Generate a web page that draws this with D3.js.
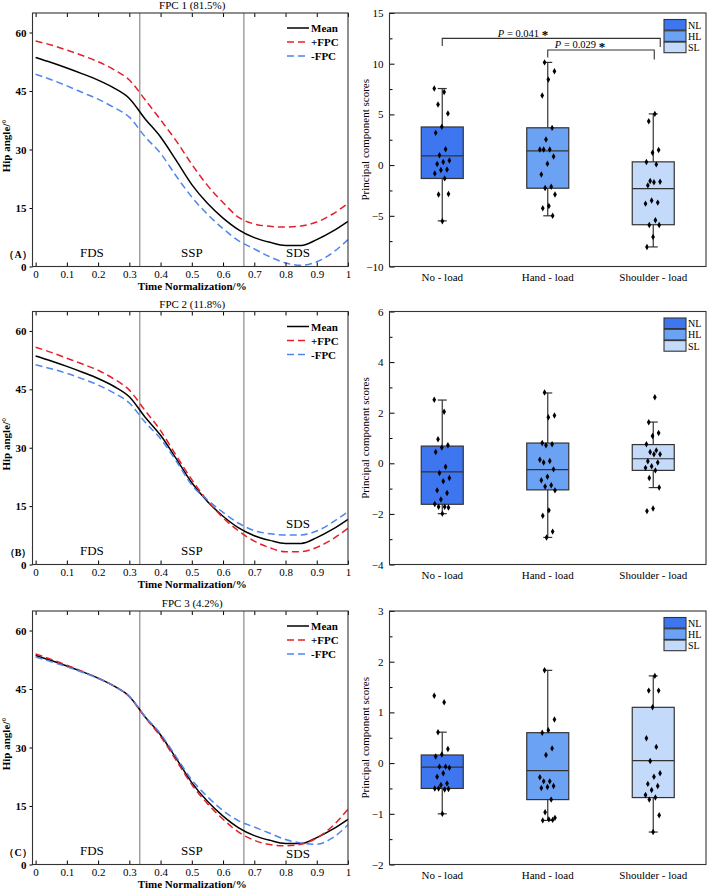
<!DOCTYPE html>
<html>
<head>
<meta charset="utf-8">
<script src="https://cdn.jsdelivr.net/npm/d3@7"></script>
<style>
body { margin: 0; background: #fff; }
svg { display: block; font-family: "Liberation Serif", "Times New Roman", serif; }
</style>
</head>
<body>
<div id="chart"></div>
<script>
// ---- data ----

// normalised time, shared by every curve
const timeNorm = [0, 0.05, 0.1, 0.15, 0.2, 0.25, 0.3, 0.35, 0.4, 0.45, 0.5,
                  0.55, 0.6, 0.65, 0.7, 0.75, 0.8, 0.85, 0.9, 0.95, 1];
const timeTicks = [0, 0.1, 0.2, 0.3, 0.4, 0.5, 0.6, 0.7, 0.8, 0.9, 1];
const angleTicks = [0, 15, 30, 45, 60];

const meanCurve = [53.6, 52.3, 50.9, 49.4, 47.8, 45.8, 43.1, 37.9, 33.2, 27.2, 21.0,
                   16.2, 12.4, 9.4, 7.4, 6.2, 5.4, 5.4, 6.9, 9.0, 11.6];

const fpc1Plus  = [57.8, 56.8, 55.5, 54.1, 52.5, 50.5, 47.8, 42.8, 37.6, 32.2, 26.2,
                   20.8, 16.4, 12.6, 10.9, 10.3, 10.1, 10.4, 11.4, 13.4, 16.2];
const fpc1Minus = [49.3, 47.9, 46.3, 44.6, 42.9, 40.8, 38.3, 33.3, 29.0, 23.2, 17.8,
                   13.4, 9.7, 6.6, 4.5, 2.5, 0.9, 0.3, 1.2, 3.5, 6.9];

const fpc2Plus  = [55.8, 54.5, 53.0, 51.5, 49.9, 47.7, 44.8, 39.6, 34.4, 28.0, 21.8,
                   16.4, 12.0, 8.6, 6.0, 4.3, 3.3, 3.3, 4.4, 6.5, 9.3];
const fpc2Minus = [51.3, 50.3, 49.1, 47.7, 46.1, 44.1, 41.5, 36.6, 32.3, 26.6, 20.4,
                   16.6, 13.4, 10.6, 8.7, 7.9, 7.6, 7.6, 8.6, 10.8, 13.6];

const fpc3Plus  = [54.0, 52.6, 51.1, 49.5, 47.8, 45.8, 43.0, 37.8, 32.8, 26.7, 20.5,
                   15.6, 11.6, 8.3, 6.2, 5.1, 4.8, 5.2, 6.8, 9.8, 14.2];
const fpc3Minus = [53.2, 52.0, 50.7, 49.3, 47.7, 45.8, 43.1, 38.0, 33.5, 27.6, 21.7,
                   17.4, 13.8, 11.2, 9.6, 8.0, 6.4, 5.5, 5.2, 6.8, 10.2];

const fpcTitles = ["FPC 1 (81.5%)", "FPC 2 (11.8%)", "FPC 3 (4.2%)"];
const panelTags = ["（A）", "（B）", "（C）"];
const phaseNames = ["FDS", "SSP", "SDS"];
const phaseBounds = [1 / 3, 2 / 3];
const curveNames = ["Mean", "+FPC", "-FPC"];

const groups = ["No - load", "Hand - load", "Shoulder - load"];
const groupKeys = ["NL", "HL", "SL"];

// box statistics per group: [lower whisker, Q1, median, Q3, upper whisker]
const boxStats1 = [[-5.5, -1.32, 0.9, 3.76, 7.55],
                   [-5.0, -2.28, 1.4, 3.68, 10.13],
                   [-8.07, -5.88, -2.32, 0.32, 5.05]];
const boxStats2 = [[-1.99, -1.62, -0.34, 0.68, 2.5],
                   [-2.93, -1.05, -0.25, 0.8, 2.78],
                   [-0.96, -0.28, 0.18, 0.74, 1.63]];
const boxStats3 = [[-1.0, -0.5, -0.08, 0.16, 0.61],
                   [-1.13, -0.72, -0.15, 0.6, 1.83],
                   [-1.36, -0.68, 0.05, 1.1, 1.72]];

// individual principal component scores
const scores1 = [[7.55, 7.2, 5.97, 5.08, 3.77, 3.18, 1.57, 0.98, 0.46, 0.3, 0.1, -0.43, -0.49, -0.82, -1.31, -2.89, -2.85, -5.54],
                 [10.13, 9.25, 8.43, 6.86, 3.67, 2.52, 1.54, 1.54, 1.54, 0.85, 0.13, -0.92, -2.13, -2.26, -2.89, -4.03, -4.26, -5.0],
                 [5.05, 4.33, 1.48, 1.21, 0.3, 0.07, -1.57, -1.64, -1.7, -2.0, -3.7, -3.5, -3.8, -5.44, -5.9, -5.9, -7.08, -8.07]];
const scores2 = [[2.51, 2.04, 0.95, 0.71, 0.62, 0.45, -0.14, -0.38, -0.58, -0.71, -1.07, -1.17, -1.43, -1.61, -1.72, -1.72, -1.75, -1.99],
                 [2.8, 1.89, 1.82, 0.8, 0.75, 0.71, 0.14, 0.09, 0.03, -0.24, -0.53, -0.67, -0.87, -0.92, -1.07, -1.86, -2.07, -2.7, -2.93],
                 [2.61, 1.62, 1.2, 1.08, 0.75, 0.51, 0.45, 0.36, 0.36, 0.08, 0.03, -0.12, -0.18, -0.28, -0.58, -0.96, -1.79, -1.89]];
const scores3 = [[1.33, 1.2, 0.61, 0.28, 0.17, 0.13, -0.07, -0.07, -0.09, -0.2, -0.27, -0.4, -0.43, -0.5, -0.52, -0.5, -0.51, -1.0],
                 [1.83, 0.86, 0.65, 0.6, 0.29, 0.16, -0.28, -0.36, -0.36, -0.45, -0.47, -0.49, -0.72, -0.97, -1.08, -1.11, -1.13, -1.12],
                 [1.72, 1.43, 1.43, 1.1, 0.49, 0.32, 0.04, -0.2, -0.27, -0.41, -0.45, -0.53, -0.63, -0.68, -0.72, -1.03, -1.36]];

const scoreDomains = [[-10, 15], [-4, 6], [-2, 3]];
const scoreTicks = [[-10, -5, 0, 5, 10, 15], [-4, -2, 0, 2, 4, 6], [-2, -1, 0, 1, 2, 3]];
const scoreMinor = [[-7.5, -2.5, 2.5, 7.5, 12.5], [-3, -1, 1, 3, 5], [-1.5, -0.5, 0.5, 1.5, 2.5]];

// significance (FPC 1 only)
const sigPairs = [{from: 0, to: 2, p: "0.041", level: 12.5, foot: 11.75},
                  {from: 1, to: 2, p: "0.029", level: 11.35, foot: 10.62}];

// ---- layout ----
const W = 708, H = 889;
const rows = [{top: 13, bottom: 266.5}, {top: 311.5, bottom: 564.5}, {top: 611, bottom: 864.5}];
const leftX = [32.5, 348];
const rightX = [389.5, 706];
const frameColor = "#333";
const boxFill = ["#3e76f0", "#6ca2f4", "#c4dafa"];
const curveColor = ["#000", "#e3202a", "#4f86ee"];
// where the SDS label sits in each panel (angle units)
const sdsLevel = [2.4, 9.4, 1.6];
const sigText = [{x: 523, y: 36.5}, {x: 580, y: 48}];

const panels = [
  {plus: fpc1Plus, minus: fpc1Minus, stats: boxStats1, scores: scores1},
  {plus: fpc2Plus, minus: fpc2Minus, stats: boxStats2, scores: scores2},
  {plus: fpc3Plus, minus: fpc3Minus, stats: boxStats3, scores: scores3}
];

const svg = d3.select("#chart").append("svg")
  .attr("width", W).attr("height", H);

panels.forEach((p, i) => {
  drawCurves(svg.append("g"), p, i, rows[i]);
  drawBoxes(svg.append("g"), p, i, rows[i]);
});

function drawCurves(g, p, i, r) {
  const x = d3.scaleLinear().domain([-0.01, 1]).range(leftX);
  const y = d3.scaleLinear().domain([0, 65]).range([r.bottom, r.top]);

  g.append("text")
    .attr("x", (leftX[0] + leftX[1]) / 2 + 2).attr("y", r.top - 4)
    .attr("text-anchor", "middle").attr("font-size", 11)
    .text(fpcTitles[i]);

  // phase boundaries
  g.selectAll(".phase").data(phaseBounds).enter().append("line")
    .attr("x1", d => x(d)).attr("x2", d => x(d))
    .attr("y1", r.top).attr("y2", r.bottom)
    .attr("stroke", "#9a9a9a").attr("stroke-width", 1.4);

  const line = d3.line()
    .x((d, k) => x(timeNorm[k]))
    .y(d => y(d))
    .curve(d3.curveMonotoneX);

  const series = [meanCurve, p.plus, p.minus];
  series.forEach((s, k) => {
    g.append("path").datum(s)
      .attr("d", line).attr("fill", "none")
      .attr("stroke", curveColor[k]).attr("stroke-width", 1.5)
      .attr("stroke-dasharray", k ? "7,4" : null);
  });

  // phase labels
  const phaseX = [0.18, 0.5, 0.84];
  phaseNames.forEach((name, k) => {
    const lvl = k === 2 ? sdsLevel[i] : 2.4;
    g.append("text")
      .attr("x", x(phaseX[k])).attr("y", y(lvl))
      .attr("text-anchor", "middle").attr("font-size", 13)
      .text(name);
  });

  g.append("text")
    .attr("x", 18).attr("y", r.bottom - 9)
    .attr("text-anchor", "middle").attr("font-size", 10).attr("font-weight", "bold")
    .text(panelTags[i]);

  // axes
  const ya = g.append("g").attr("transform", `translate(${leftX[0]},0)`)
    .call(d3.axisLeft(y).tickValues(angleTicks).tickSize(3).tickPadding(3));
  ya.select(".domain").remove();
  ya.selectAll("text").attr("font-size", 11).attr("font-weight", "bold")
    .attr("font-family", "Liberation Serif");

  const xa = g.append("g").attr("transform", `translate(0,${r.bottom})`)
    .call(d3.axisBottom(x).tickValues(timeTicks).tickSize(-4).tickPadding(4)
      .tickFormat(d3.format("~g")));
  xa.select(".domain").remove();
  xa.selectAll("text").attr("font-size", 11).attr("font-family", "Liberation Serif");

  const xt = g.append("g").attr("transform", `translate(0,${r.top})`)
    .call(d3.axisTop(x).tickValues(timeTicks).tickSize(-4).tickFormat(""));
  xt.select(".domain").remove();

  g.append("rect")
    .attr("x", leftX[0]).attr("y", r.top)
    .attr("width", leftX[1] - leftX[0]).attr("height", r.bottom - r.top)
    .attr("fill", "none").attr("stroke", frameColor).attr("stroke-width", 1.1);

  g.append("text")
    .attr("transform", `translate(10,${(r.top + r.bottom) / 2 + 6}) rotate(-90)`)
    .attr("text-anchor", "middle").attr("font-size", 11).attr("font-weight", "bold")
    .text("Hip angle/°");

  g.append("text")
    .attr("x", (leftX[0] + leftX[1]) / 2 + 2).attr("y", r.bottom + 23.5)
    .attr("text-anchor", "middle").attr("font-size", 11).attr("font-weight", "bold")
    .text("Time Normalization/%");

  // legend
  curveNames.forEach((name, k) => {
    const ly = r.top + 15 + k * 14;
    g.append("line")
      .attr("x1", leftX[1] - 61).attr("x2", leftX[1] - 39)
      .attr("y1", ly).attr("y2", ly)
      .attr("stroke", curveColor[k]).attr("stroke-width", 1.5)
      .attr("stroke-dasharray", k ? "7,4" : null);
    g.append("text")
      .attr("x", leftX[1] - 37).attr("y", ly + 4)
      .attr("font-size", 11).attr("font-weight", "bold")
      .text(name);
  });
}

function drawBoxes(g, p, i, r) {
  const x = d3.scaleBand().domain(groups).range(rightX);
  const y = d3.scaleLinear().domain(scoreDomains[i]).range([r.bottom, r.top]);
  const bw = 42;
  const cx = d => x(d) + x.bandwidth() / 2;

  const ya = g.append("g").attr("transform", `translate(${rightX[0]},0)`)
    .call(d3.axisLeft(y).tickValues(scoreTicks[i]).tickSize(-5).tickPadding(6)
      .tickFormat(d3.format("~g")));
  ya.select(".domain").remove();
  ya.selectAll("text").attr("font-size", 11).attr("font-family", "Liberation Serif");
  const ym = g.append("g").attr("transform", `translate(${rightX[0]},0)`)
    .call(d3.axisLeft(y).tickValues(scoreMinor[i]).tickSize(-3).tickFormat(""));
  ym.select(".domain").remove();

  const xa = g.append("g").attr("transform", `translate(0,${r.bottom})`)
    .call(d3.axisBottom(x).tickSize(0).tickPadding(7));
  xa.select(".domain").remove();
  xa.selectAll("text").attr("font-size", 11).attr("font-family", "Liberation Serif");

  g.append("text")
    .attr("transform", `translate(369,${(r.top + r.bottom) / 2}) rotate(-90)`)
    .attr("text-anchor", "middle").attr("font-size", 11)
    .text("Principal component scores");

  groups.forEach((grp, k) => {
    const s = p.stats[k];
    const c = cx(grp);
    const bg = g.append("g");
    bg.append("line")
      .attr("x1", c).attr("x2", c).attr("y1", y(s[0])).attr("y2", y(s[4]))
      .attr("stroke", frameColor).attr("stroke-width", 1.2);
    [s[0], s[4]].forEach(v => {
      bg.append("line")
        .attr("x1", c - 4.5).attr("x2", c + 4.5).attr("y1", y(v)).attr("y2", y(v))
        .attr("stroke", frameColor).attr("stroke-width", 1.2);
    });
    bg.append("rect")
      .attr("x", c - bw / 2).attr("y", y(s[3]))
      .attr("width", bw).attr("height", y(s[1]) - y(s[3]))
      .attr("fill", boxFill[k]).attr("stroke", frameColor).attr("stroke-width", 1.2);
    bg.append("line")
      .attr("x1", c - bw / 2).attr("x2", c + bw / 2)
      .attr("y1", y(s[2])).attr("y2", y(s[2]))
      .attr("stroke", frameColor).attr("stroke-width", 1.2);

    // jittered points, deterministic spread by index
    bg.selectAll(".pt").data(p.scores[k]).enter().append("path")
      .attr("d", d3.symbol(d3.symbolDiamond, 12))
      .attr("transform", (d, n) => {
        const off = (((n * 0.618034 + k * 0.3) % 1) - 0.5) * 16;
        return `translate(${c + off},${y(d)})`;
      })
      .attr("fill", "#000");
  });

  g.append("rect")
    .attr("x", rightX[0]).attr("y", r.top)
    .attr("width", rightX[1] - rightX[0]).attr("height", r.bottom - r.top)
    .attr("fill", "none").attr("stroke", frameColor).attr("stroke-width", 1.1);

  // legend
  groupKeys.forEach((key, k) => {
    const ly = r.top + 6.5 + k * 11.3;
    g.append("rect")
      .attr("x", rightX[1] - 42).attr("y", ly)
      .attr("width", 22).attr("height", 10.6)
      .attr("fill", boxFill[k]).attr("stroke", frameColor).attr("stroke-width", 1.1);
    g.append("text")
      .attr("x", rightX[1] - 18).attr("y", ly + 9)
      .attr("font-size", 10).text(key);
  });

  if (i === 0) {
    sigPairs.forEach((s, k) => {
      const x1 = cx(groups[s.from]);
      const x2 = cx(groups[s.to]) + (k === 0 ? 7 : 1);
      g.append("path")
        .attr("d", `M${x1},${y(s.foot)}V${y(s.level)}H${x2}V${y(s.foot) + (k === 0 ? 1 : 2)}`)
        .attr("fill", "none").attr("stroke", frameColor).attr("stroke-width", 1.1);
      const t = g.append("text")
        .attr("x", sigText[k].x).attr("y", sigText[k].y)
        .attr("text-anchor", "middle").attr("font-size", 10.5);
      t.append("tspan").attr("font-style", "italic").text("P");
      t.append("tspan").text(" = " + s.p + " ");
      t.append("tspan").attr("font-size", 13).attr("font-weight", "bold")
        .attr("dy", 2.5).text("*");
    });
  }
}
</script>
</body>
</html>
